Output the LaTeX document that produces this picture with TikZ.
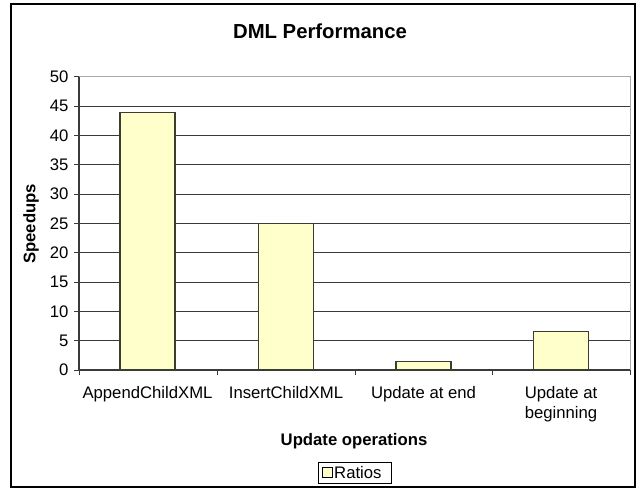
\documentclass[tikz,border=0pt]{standalone}
\usepackage{fontspec}
\setmainfont{Liberation Sans}
\usetikzlibrary{positioning}
\definecolor{BarFill}{HTML}{FFFFCC}
\definecolor{BarEdge}{HTML}{3C3C30}
\definecolor{GridInk}{HTML}{3A3A3A}
\definecolor{PlotEdge}{HTML}{A8A8A8}
\newcommand{\ratiobar}[3]{% name, centre x, value
  \draw[BarEdge,fill=BarFill,line width=1.1pt] (#2-27.5,370) rectangle (#2+27.5,{370-5.86*#3});
  \coordinate (#1) at (#2,{370-5.86*#3});
}
\tikzset{
  ticklabel/.style={font=\fontsize{16.7}{20}\selectfont,text=black},
  axistitle/.style={font=\fontsize{16.7}{20}\selectfont\bfseries,text=black},
}

\begin{document}
\begin{tikzpicture}[x=1pt,y=-1pt]
      \useasboundingbox (0,0) rectangle (640,489);
      \fill[white] (0,0) rectangle (640,489);
      \draw[black,line width=1.6pt] (11,4) rectangle (635,487);
      % grid and axes
      \foreach \v in {5,10,...,45}{
        \draw[GridInk,line width=0.9pt] (79,{370-5.86*\v}) -- (630,{370-5.86*\v});
      }
      \draw[PlotEdge,line width=1pt] (79,77) -- (630,77) -- (630,370);
      \foreach \v in {0,5,...,50}{
        \draw[GridInk,line width=1pt] (74,{370-5.86*\v}) -- (79,{370-5.86*\v});
        \node[ticklabel,anchor=east] (y\v) at (72,{370-5.86*\v}) {\v};
      }
      \foreach \x in {79,217,355,492,630}{
        \draw[GridInk,line width=1pt] (\x,370) -- (\x,375);
      }
      \draw[GridInk,line width=1.2pt] (79,77) -- (79,370) -- (630,370);

      \ratiobar{append}{147.5}{44}
      \ratiobar{insert}{286}{25}
      \ratiobar{atend}{423.5}{1.5}
      \ratiobar{atbegin}{561}{6.5}

      \node[ticklabel,anchor=north] (lappend) at (147.5,383) {AppendChildXML};
      \node[ticklabel,anchor=north] (linsert) at (286,383) {InsertChildXML};
      \node[ticklabel,anchor=north] (latend) at (423.5,383) {Update at end};
      \node[ticklabel,anchor=north,align=center] (latbegin) at (561,383) {Update at\\beginning};

      \node[font=\fontsize{20.3}{24}\selectfont\bfseries] (title) at (320,31) {DML Performance};
      \node[axistitle,rotate=90] (ytitle) at (31,224) {Speedups};
      \node[axistitle] (xtitle) at (354,441) {Update operations};

      % legend
      \draw[black,line width=0.8pt] (318,462) rectangle (391,483);
      \draw[black,fill=BarFill,line width=0.8pt] (322,467) rectangle (332,477);
      \node[ticklabel,anchor=west,inner sep=0pt] (lratios) at (334,472.5) {Ratios};
    \end{tikzpicture}
\end{document}
